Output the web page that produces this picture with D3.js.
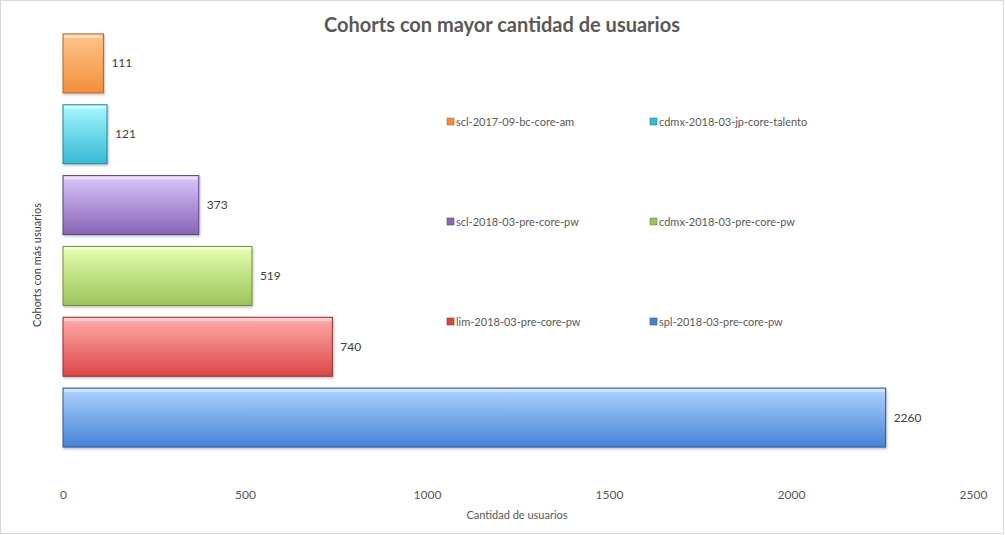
<!DOCTYPE html>
<html>
<head>
<meta charset="utf-8">
<script src="https://cdn.jsdelivr.net/npm/d3@7"></script>
<style>
  body { margin: 0; background: #fff; }
  svg { font-family: Lato, "Open Sans", sans-serif; }
</style>
</head>
<body>
<div id="chart"></div>
<script>
// cohorts, top to bottom as drawn
var cohorts = ["scl-2017-09-bc-core-am", "cdmx-2018-03-jp-core-talento", "scl-2018-03-pre-core-pw",
               "cdmx-2018-03-pre-core-pw", "lim-2018-03-pre-core-pw", "spl-2018-03-pre-core-pw"];
var usuarios = [111, 121, 373, 519, 740, 2260];
var xTicks = [0, 500, 1000, 1500, 2000, 2500];
// legend rows, two per row
var legendOrder = ["scl-2017-09-bc-core-am", "cdmx-2018-03-jp-core-talento",
                   "scl-2018-03-pre-core-pw", "cdmx-2018-03-pre-core-pw",
                   "lim-2018-03-pre-core-pw", "spl-2018-03-pre-core-pw"];

// light top / dark bottom / edge
var colors = {
  "scl-2017-09-bc-core-am":       ["#ffc68c", "#f38e3a", "#b5662a"],
  "cdmx-2018-03-jp-core-talento": ["#a4f8ff", "#37b9d6", "#23869c"],
  "scl-2018-03-pre-core-pw":      ["#dcc6fa", "#8664b6", "#5b4380"],
  "cdmx-2018-03-pre-core-pw":     ["#e6ffb0", "#9cc45a", "#6f9236"],
  "lim-2018-03-pre-core-pw":      ["#ffacac", "#db4644", "#9a2e2c"],
  "spl-2018-03-pre-core-pw":      ["#aed4ff", "#4583d6", "#2a5a98"]
};

var W = 1005, H = 535;
var svg = d3.select("#chart").append("svg").attr("width", W).attr("height", H);

svg.append("rect").attr("x", 0.5).attr("y", 0.5).attr("width", W - 2).attr("height", H - 2)
  .attr("fill", "#fff").attr("stroke", "#d9d9d9");

var x = d3.scaleLinear().domain([0, 2500]).range([63, 973]);
var y = d3.scaleBand().domain(cohorts).range([28, 453]).paddingInner(0.167).paddingOuter(0.0835);

var defs = svg.append("defs");
cohorts.forEach(function(c, i) {
  var g = defs.append("linearGradient").attr("id", "grad" + i)
    .attr("x1", 0).attr("y1", 0).attr("x2", 0).attr("y2", 1);
  g.append("stop").attr("offset", "0%").attr("stop-color", colors[c][0]);
  g.append("stop").attr("offset", "100%").attr("stop-color", colors[c][1]);
});
var sh = defs.append("filter").attr("id", "shadow").attr("x", "-5%").attr("y", "-10%").attr("width", "110%").attr("height", "130%");
sh.append("feDropShadow").attr("dx", 1).attr("dy", 1.5).attr("stdDeviation", 1).attr("flood-color", "#000").attr("flood-opacity", 0.25);

// title
svg.append("text").attr("x", 502).attr("y", 32).attr("text-anchor", "middle")
  .attr("font-size", 20).attr("font-weight", "bold").attr("fill", "#595959")
  .text("Cohorts con mayor cantidad de usuarios");

// bars
var bars = svg.append("g").selectAll("g").data(cohorts).enter().append("g");
bars.append("rect")
  .attr("x", x(0)).attr("y", function(d) { return y(d); })
  .attr("width", function(d, i) { return x(usuarios[i]) - x(0); })
  .attr("height", y.bandwidth())
  .attr("fill", function(d, i) { return "url(#grad" + i + ")"; })
  .attr("stroke", function(d) { return colors[d][2]; })
  .attr("stroke-width", 1)
  .attr("filter", "url(#shadow)");
// bevel highlight on top edge
bars.append("rect")
  .attr("x", x(0) + 1).attr("y", function(d) { return y(d) + 1; })
  .attr("width", function(d, i) { return x(usuarios[i]) - x(0) - 2; })
  .attr("height", 3)
  .attr("fill", "#fff").attr("opacity", 0.45);

// data labels
bars.append("text")
  .attr("x", function(d, i) { return x(usuarios[i]) + 8; })
  .attr("y", function(d) { return y(d) + y.bandwidth() / 2 + 4; })
  .attr("font-size", 12).attr("fill", "#404040")
  .text(function(d, i) { return usuarios[i]; });

// x axis (labels only)
var xAxis = svg.append("g").attr("transform", "translate(0,480)")
  .call(d3.axisBottom(x).tickValues(xTicks).tickFormat(d3.format("d")).tickSize(0).tickPadding(10));
xAxis.select(".domain").remove();
xAxis.selectAll("text").attr("font-size", 12).attr("fill", "#595959").attr("font-family", "Lato, sans-serif");

svg.append("text").attr("x", 517).attr("y", 519).attr("text-anchor", "middle")
  .attr("font-size", 11).attr("fill", "#595959").text("Cantidad de usuarios");

svg.append("text").attr("transform", "translate(41,265) rotate(-90)").attr("text-anchor", "middle")
  .attr("font-size", 11).attr("fill", "#404040").text("Cohorts con más usuarios");

// legend
var lg = svg.append("g").selectAll("g").data(legendOrder).enter().append("g")
  .attr("transform", function(d, i) {
    return "translate(" + (i % 2 === 0 ? 447 : 650) + "," + (122 + Math.floor(i / 2) * 100) + ")";
  });
lg.append("rect").attr("x", 0).attr("y", -4).attr("width", 7).attr("height", 7)
  .attr("fill", function(d) { return colors[d][1]; })
  .attr("stroke", function(d) { return colors[d][2]; }).attr("stroke-width", 0.6);
lg.append("text").attr("x", 9).attr("y", 4).attr("font-size", 11).attr("fill", "#595959")
  .text(function(d) { return d; });
</script>
</body>
</html>
